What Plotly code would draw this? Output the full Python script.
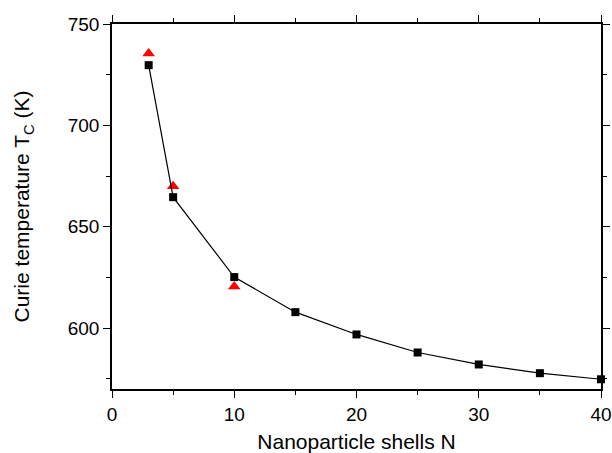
import plotly.graph_objects as go

shells = [3, 5, 10, 15, 20, 25, 30, 35, 40]
tc_model = [729.7, 664.6, 625.2, 607.9, 596.9, 588.0, 582.1, 577.8, 574.8]
shells_ref = [3, 5, 10]
tc_ref = [735.4, 670.0, 620.5]

x_ticks = [0, 10, 20, 30, 40]
y_ticks = [600, 650, 700, 750]

FONT = "Liberation Sans, Arial, sans-serif"

fig = go.Figure()
fig.add_trace(go.Scatter(
    x=shells_ref, y=tc_ref, mode="markers",
    marker=dict(symbol="triangle-up", size=11, color="#ff0000", line=dict(width=0)),
    showlegend=False, cliponaxis=False))
fig.add_trace(go.Scatter(
    x=shells, y=tc_model, mode="lines+markers",
    line=dict(color="black", width=1.2),
    marker=dict(symbol="square", size=8, color="black", line=dict(width=0)),
    showlegend=False, cliponaxis=False))

axis_common = dict(
    showline=True, linecolor="black", linewidth=1.5, mirror="allticks",
    ticks="outside", ticklen=7, tickwidth=1.3, tickcolor="black",
    showgrid=False, zeroline=False,
    tickfont=dict(family=FONT, size=19, color="black"),
)

fig.update_xaxes(
    range=[0, 40], tickvals=x_ticks,
    minor=dict(ticks="outside", ticklen=4, tickwidth=1.3, tickcolor="black", dtick=5, tick0=0, showgrid=False),
    title=dict(text="Nanoparticle shells N", font=dict(family=FONT, size=21, color="black"), standoff=12),
    **axis_common)
fig.update_yaxes(
    range=[570, 750], tickvals=y_ticks,
    minor=dict(ticks="outside", ticklen=4, tickwidth=1.3, tickcolor="black", dtick=25, tick0=575, showgrid=False),
    title=dict(text="Curie temperature T<sub>C</sub> (K)", font=dict(family=FONT, size=21, color="black"), standoff=32),
    **axis_common)

fig.update_layout(
    width=612, height=453,
    margin=dict(l=112, r=11, t=24, b=64, autoexpand=False),
    plot_bgcolor="white", paper_bgcolor="white",
    font=dict(family=FONT, color="black"),
)

fig.write_html("out.html")
